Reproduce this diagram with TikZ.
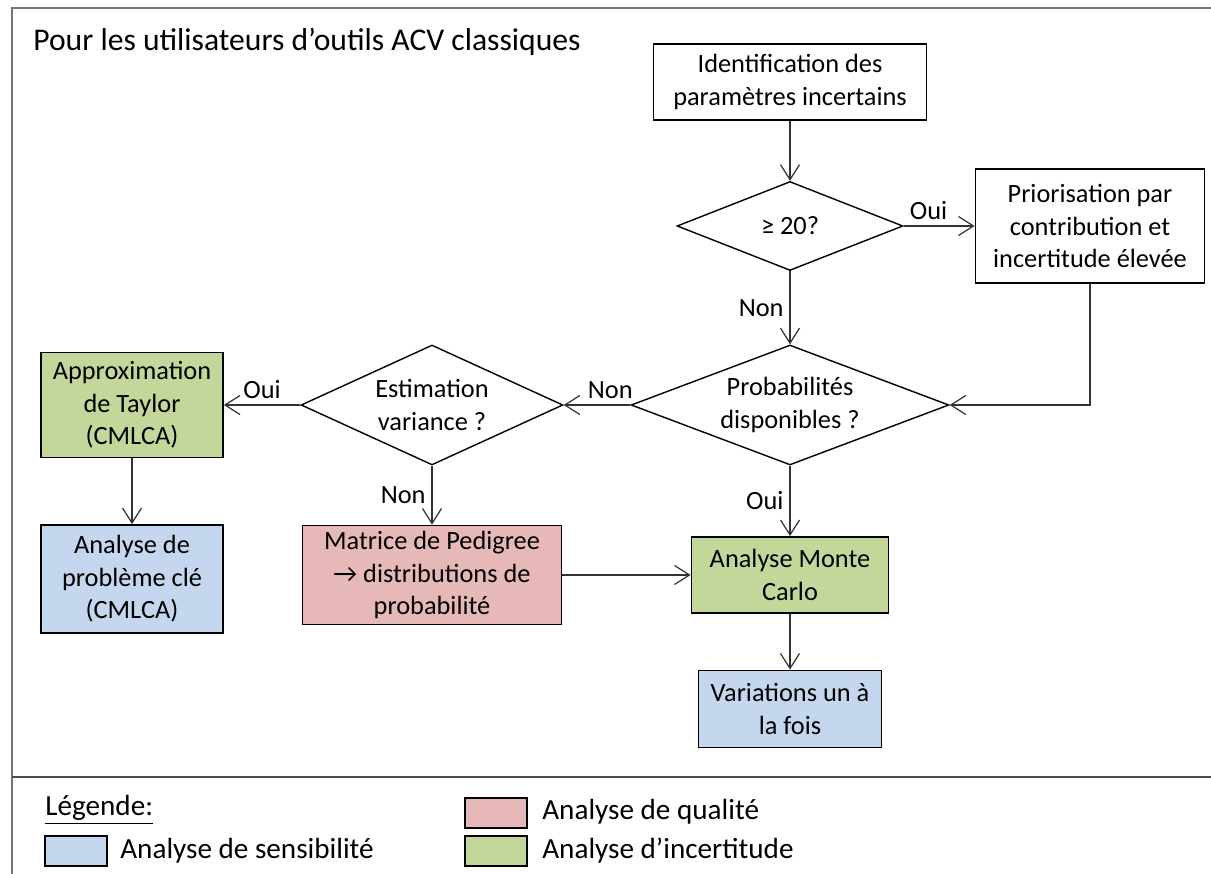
\documentclass[tikz,border=0pt]{standalone}
\usepackage{fontspec}
\setmainfont{Carlito}
\usetikzlibrary{shapes.geometric,arrows.meta}
\definecolor{sensib}{RGB}{197,215,238}
\definecolor{qualite}{RGB}{230,185,184}
\definecolor{incert}{RGB}{196,215,155}
\newcommand\boitefont{\fontsize{15}{18.5}\selectfont}
\newcommand\legfont{\fontsize{16.6}{19}\selectfont}
\tikzset{
  boite/.style={draw=black, line width=1pt, align=center, inner sep=0pt, font=\boitefont},
  choix/.style={diamond, draw=black, line width=0.8pt, align=center, inner sep=0pt, font=\boitefont},
  fleche/.style={draw=black!80, line width=0.7pt, -{Straight Barb[length=0.3cm,width=0.38cm]}},
  etiq/.style={font=\boitefont},
  pastille/.style={draw=black, line width=1pt, minimum width=1.24cm, minimum height=0.6cm, inner sep=0pt},
}

\begin{document}
\begin{tikzpicture}[x=0.02cm, y=-0.02cm]
\useasboundingbox (0,0) rectangle (1211,874);
\draw[black!55, line width=1.6pt] (12,874) -- (12,8) -- (1211,8);
\draw[black!70, line width=1.4pt] (12,777) -- (1211,777);

\node[anchor=west, font=\fontsize{18}{21}\selectfont, inner sep=0pt] (titre) at (33,42) {Pour les utilisateurs d’outils ACV classiques};

\node[boite, minimum width=5.46cm, minimum height=1.52cm] (ident) at (790,82) {Identification des\\paramètres incertains};
\node[choix, minimum width=4.52cm, minimum height=1.78cm, aspect=2.54] (q20) at (790,226) {≥ 20?};
\node[boite, minimum width=4.58cm, minimum height=2.28cm] (prio) at (1090,226) {Priorisation par\\contribution et\\incertitude élevée};
\node[choix, minimum width=6.36cm, minimum height=2.4cm, aspect=2.65] (proba) at (790,405) {Probabilités\\disponibles ?};
\node[choix, minimum width=5.24cm, minimum height=2.4cm, aspect=2.18] (estim) at (432,405) {Estimation\\variance ?};
\node[boite, fill=incert, minimum width=3.64cm, minimum height=2.1cm] (taylor) at (132,405) {Approximation\\de Taylor\\(CMLCA)};
\node[boite, fill=sensib, minimum width=3.64cm, minimum height=2.16cm] (probleme) at (132,579) {Analyse de\\problème clé\\(CMLCA)};
\node[boite, fill=qualite, minimum width=5.18cm, minimum height=1.98cm] (pedig) at (432,575) {Matrice de Pedigree\\→ distributions de\\probabilité};
\node[boite, fill=incert, minimum width=3.94cm, minimum height=1.52cm] (monte) at (790,575) {Analyse Monte\\Carlo};
\node[boite, fill=sensib, minimum width=3.66cm, minimum height=1.54cm] (variat) at (790,709) {Variations un à\\la fois};

\draw[fleche] (ident) -- (q20);
\draw[fleche] (q20) -- node[etiq, above, pos=0.35] {Oui} (prio);
\draw[fleche] (q20) -- node[etiq, left] {Non} (proba);
\draw[fleche] (prio.south) |- (proba.east);
\draw[fleche] (proba) -- node[etiq, above, pos=0.3] {Non} (estim);
\draw[fleche] (estim) -- node[etiq, above] {Oui} (taylor);
\draw[fleche] (taylor) -- (probleme);
\draw[fleche] (estim) -- node[etiq, left] {Non} (pedig);
\draw[fleche] (pedig) -- (monte);
\draw[fleche] (proba) -- node[etiq, left] {Oui} (monte);
\draw[fleche] (monte) -- (variat);

\node[anchor=west, font=\legfont, inner sep=0pt] (legende) at (45,810) {\underline{Légende:}};
\node[pastille, fill=sensib] (psens) at (76,851) {};
\node[anchor=west, font=\legfont, inner sep=0pt] (tsens) at (120,851) {Analyse de sensibilité};
\node[pastille, fill=qualite] (pqual) at (496,813) {};
\node[anchor=west, font=\legfont, inner sep=0pt] (tqual) at (542,812) {Analyse de qualité};
\node[pastille, fill=incert] (pinc) at (496,851) {};
\node[anchor=west, font=\legfont, inner sep=0pt] (tinc) at (542,851) {Analyse d’incertitude};
\end{tikzpicture}
\end{document}
